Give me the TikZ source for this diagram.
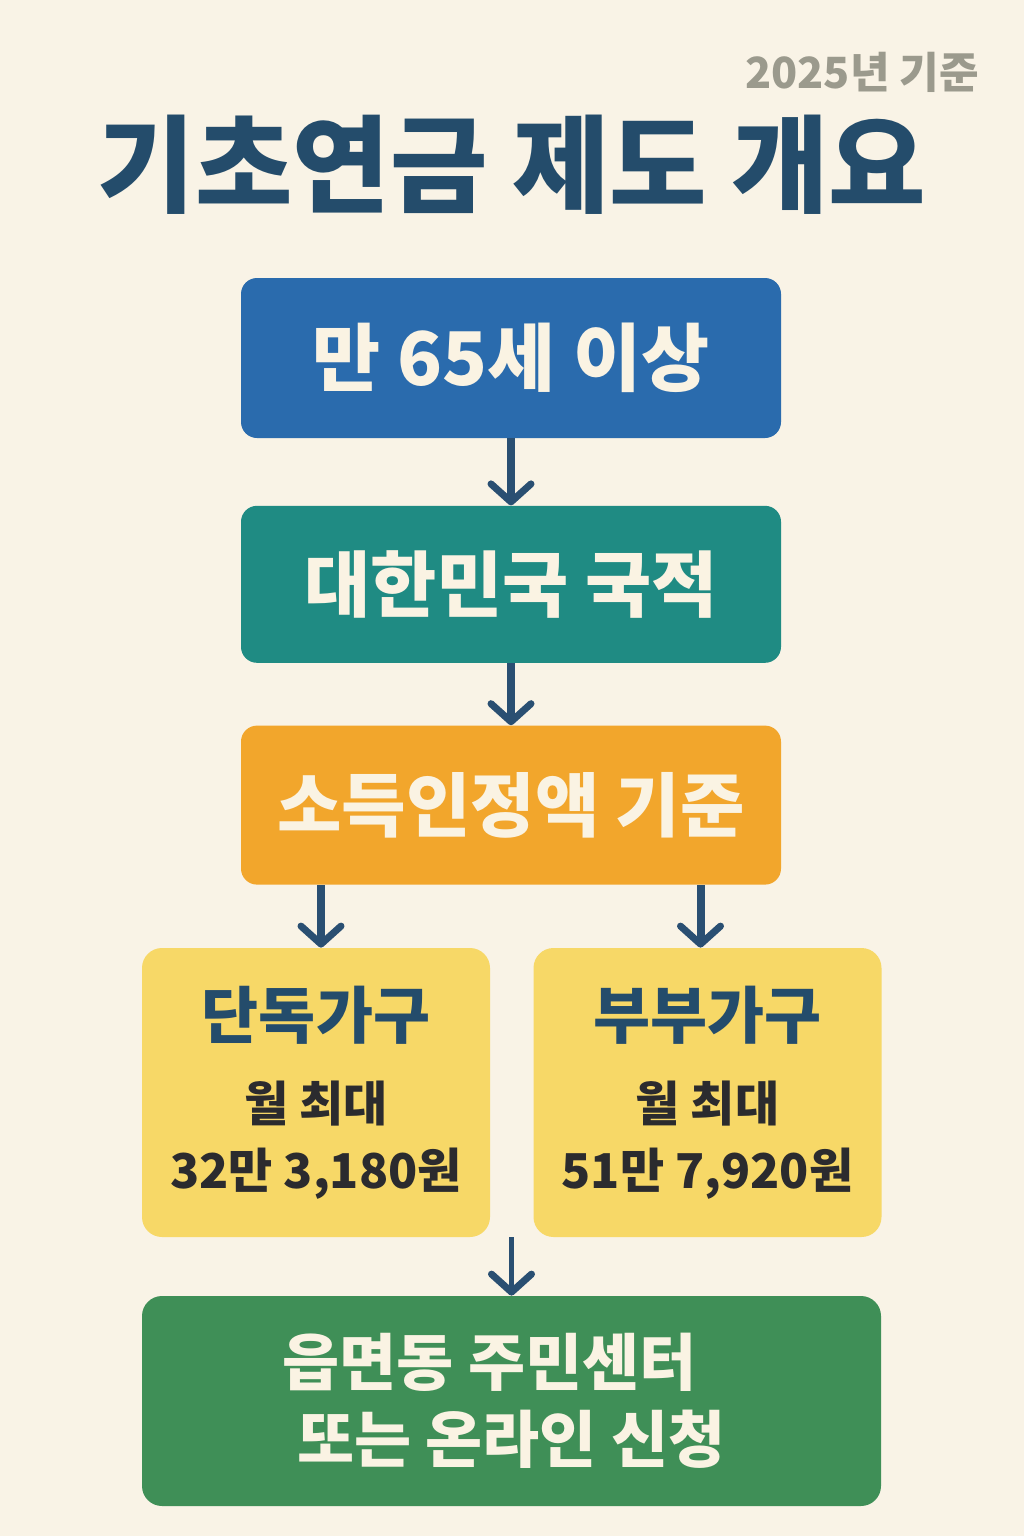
\documentclass[tikz,border=0pt]{standalone}
\usepackage{fontspec}
\setmainfont{Noto Sans CJK KR}
\usetikzlibrary{arrows.meta, positioning}
\definecolor{pagebg}{HTML}{F9F3E6}
\definecolor{navy}{HTML}{244C6B}
\definecolor{yeargray}{HTML}{9B9A8D}
\definecolor{boxblue}{HTML}{2A6BAD}
\definecolor{boxteal}{HTML}{1F8B83}
\definecolor{boxorange}{HTML}{F2A62C}
\definecolor{boxyellow}{HTML}{F7D867}
\definecolor{boxgreen}{HTML}{3F8F57}
\definecolor{boxtext}{HTML}{FAF3E3}
\definecolor{arrownavy}{HTML}{2A4F72}
\definecolor{amountgray}{HTML}{2B2B2E}
\tikzset{
  % Step boxes in the main column
  stepbox/.style={
    rectangle, rounded corners=8pt, minimum width=270pt, minimum height=80pt,
    fill=#1, text=boxtext, font=\fontsize{36}{40}\selectfont\bfseries,
    align=center, inner sep=0pt,
  },
  stepbox/.default={boxblue},
  % Household boxes
  housebox/.style={
    rectangle, rounded corners=10pt, minimum width=174pt, minimum height=144.5pt,
    fill=boxyellow, text=amountgray, font=\fontsize{24}{33.5}\selectfont\bfseries,
    align=center, inner sep=0pt,
  },
  % Application box
  applybox/.style={
    rectangle, rounded corners=10pt, minimum width=369.5pt, minimum height=105pt,
    fill=boxgreen, text=boxtext, font=\fontsize{31}{38.5}\selectfont\bfseries,
    align=center, inner sep=0pt,
  },
  % Arrows
  flowarrow/.style={-{Straight Barb[length=9pt, width=20pt, line width=3.5pt, round]},
    line width=4pt, draw=arrownavy},
  % Title labels
  titletext/.style={font=\fontsize{53}{60}\selectfont\bfseries, text=navy},
  yeartext/.style={font=\fontsize{21.5}{24}\selectfont\bfseries, text=yeargray},
}
\begin{document}
\begin{tikzpicture}[x=0.5pt, y=-0.5pt]

  % Page
  \fill[pagebg] (0,0) rectangle (1024,1536);

  % Title
  \node[yeartext] (year) at (862,72) {2025년 기준};
  \node[titletext] (title) at (512,165) {기초연금 제도 개요};

  % Conditions
  \node[stepbox=boxblue, font=\fontsize{37}{40}\selectfont\bfseries] (age) at (511,358) {만 65세 이상};
  \node[stepbox=boxteal, minimum height=78.5pt, below=33.5pt of age] (nation) {대한민국 국적};
  \node[stepbox=boxorange, minimum height=79.5pt, below=31pt of nation,
    font=\fontsize{35}{40}\selectfont\bfseries] (income) {소득인정액 기준};

  % Households
  \node[housebox] (single) at (316,1092.5) {
    {\fontsize{31}{32}\selectfont\color{navy}단독가구}\\[8pt]
    월 최대\\
    32만 3,180원
  };
  \node[housebox] (couple) at (707.5,1092.5) {
    {\fontsize{31}{32}\selectfont\color{navy}부부가구}\\[8pt]
    월 최대\\
    51만 7,920원
  };

  % Application
  \node[applybox] (apply) at (511.5,1401) {읍면동 주민센터\kern 22pt\\또는 온라인 신청};

  % Arrows
  \draw[flowarrow] (age) -- (nation);
  \draw[flowarrow] (nation) -- (income);
  \draw[flowarrow] ([xshift=2.5pt]single.north |- income.south) -- ([xshift=2.5pt]single.north);
  \draw[flowarrow] ([xshift=-3.5pt]couple.north |- income.south) -- ([xshift=-3.5pt]couple.north);
  \draw[flowarrow, line width=2.5pt] (apply.north |- single.south) -- (apply.north);

\end{tikzpicture}
\end{document}
